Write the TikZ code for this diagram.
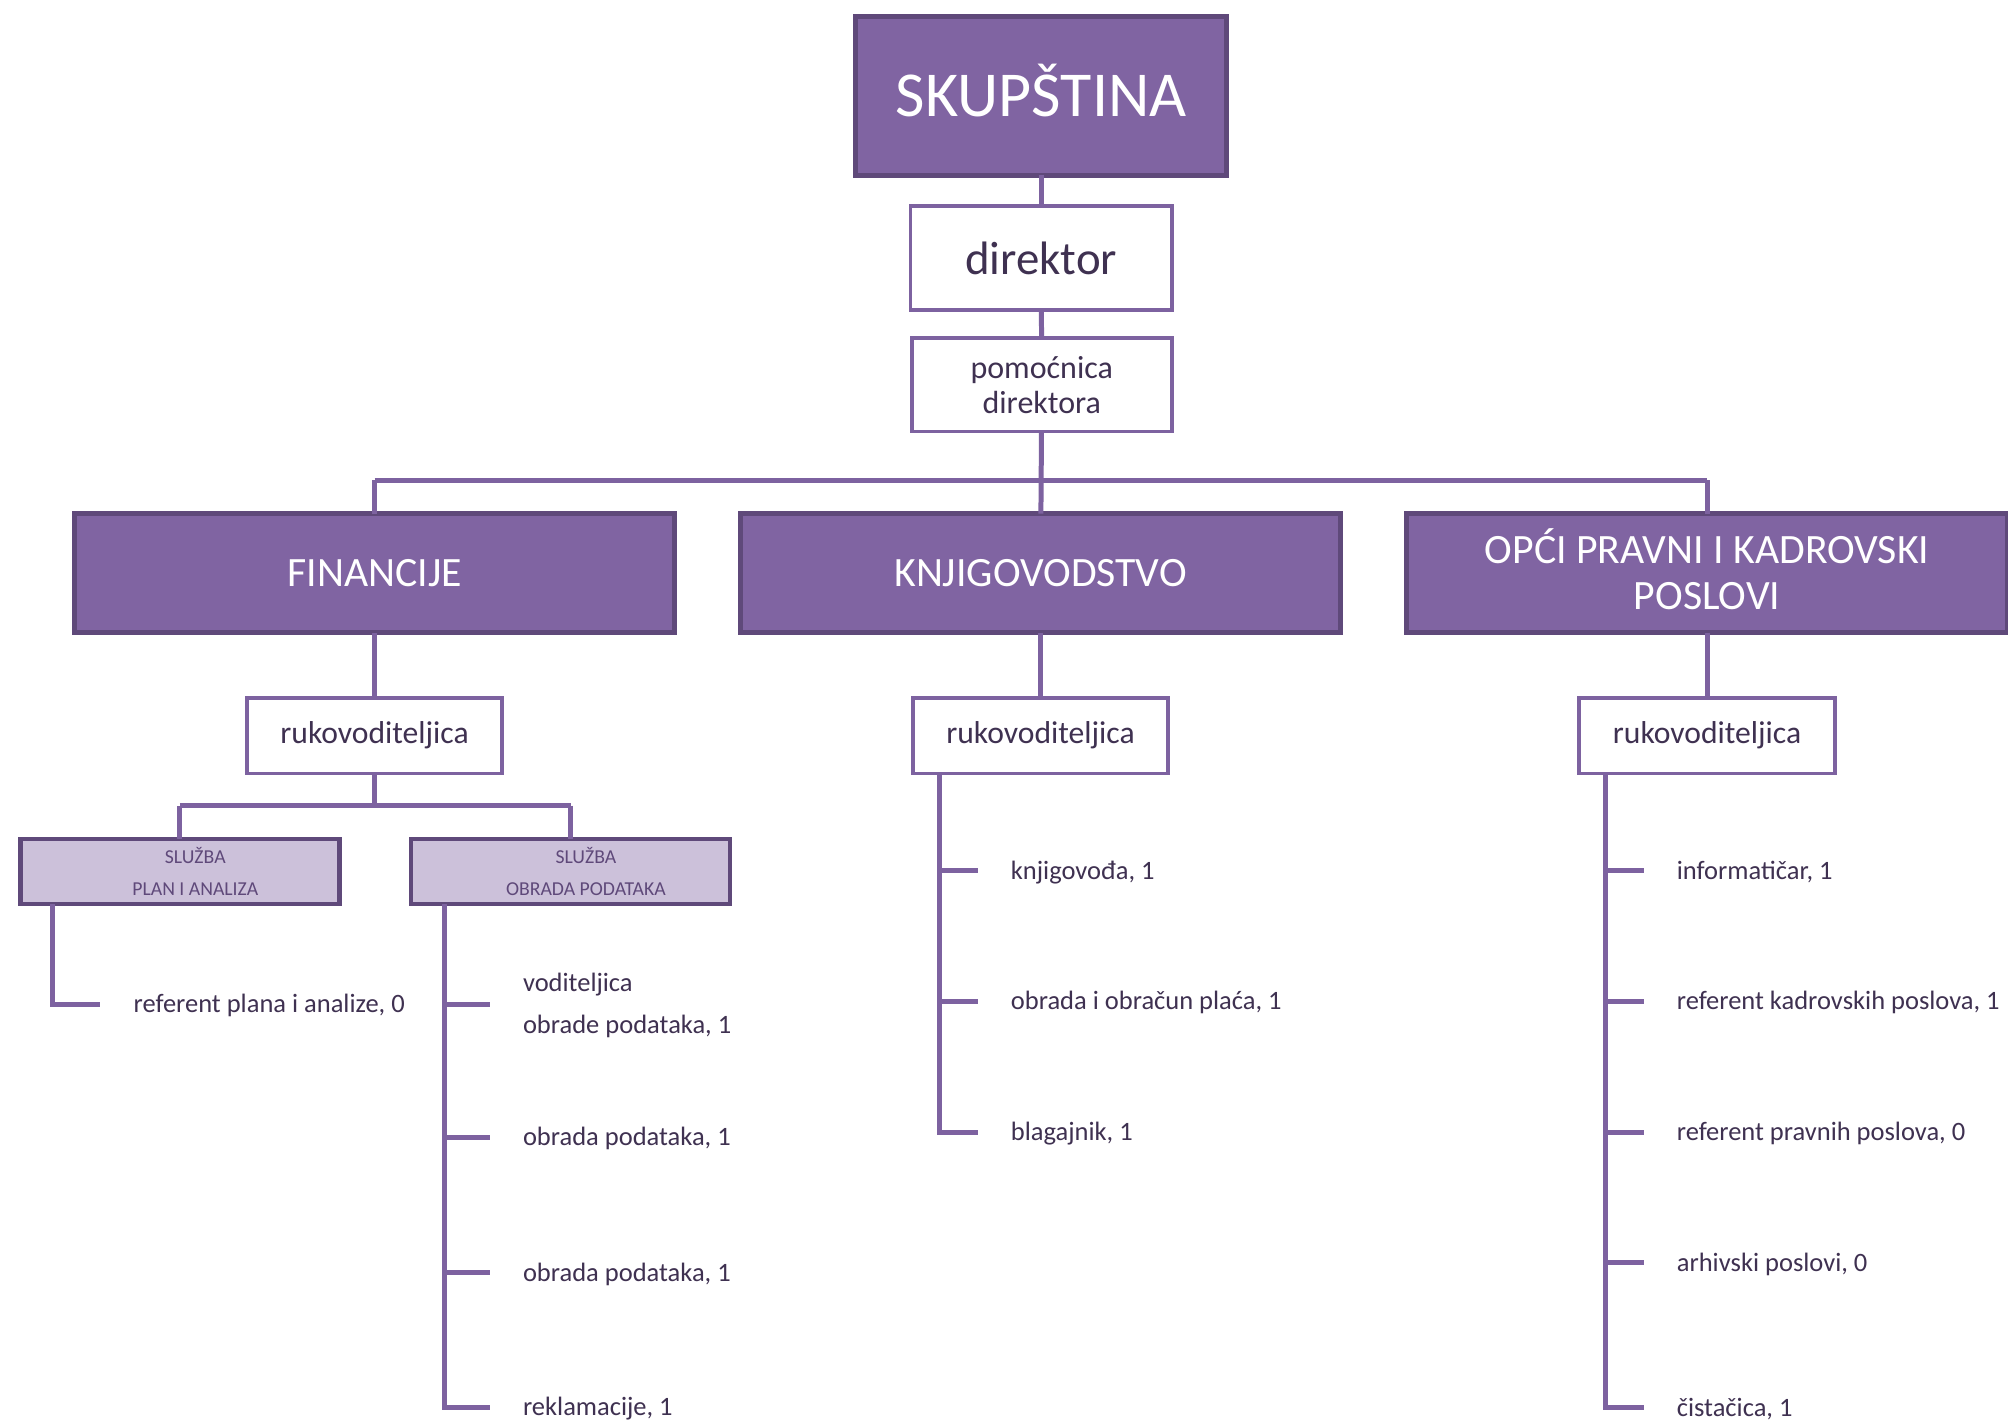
\documentclass[tikz,border=0pt]{standalone}
\usepackage{fontspec}
\setmainfont{Carlito}
\definecolor{darkfill}{HTML}{8064A2}
\definecolor{darkborder}{HTML}{5F497A}
\definecolor{lightfill}{HTML}{CCC1DA}
\definecolor{textdark}{HTML}{3F3151}
\definecolor{linecol}{HTML}{7D62A0}
\tikzset{
  headbox/.style={draw=darkborder, line width=2pt, fill=darkfill, text=white, inner sep=0pt, outer sep=0pt, align=center},
  whitebox/.style={draw=linecol, line width=1.5pt, fill=white, text=textdark, inner sep=0pt, outer sep=0pt, align=center},
  unitbox/.style={draw=darkborder, line width=1.75pt, fill=lightfill, text=darkborder, inner sep=0pt, outer sep=0pt, align=center,
    font=\fontsize{7.7pt}{12.5pt}\selectfont},
  conn/.style={draw=linecol, line width=1.95pt},
  item/.style={anchor=west, text=textdark, inner sep=0pt, align=left, font=\fontsize{10.35pt}{16.5pt}\selectfont}
}
\newcommand{\unitshift}{\hspace*{12pt}}
\begin{document}
\begin{tikzpicture}[x=0.5pt, y=-0.5pt]
\useasboundingbox (0,0) rectangle (1568,1109);
\fill[white] (0,0) rectangle (1568,1109);

\coordinate (bus) at (813,375);
\coordinate (busL) at (292.5,375);
\coordinate (busR) at (1333,375);
\coordinate (fbus) at (292.5,629);
\coordinate (fbusL) at (140.5,629);
\coordinate (fbusR) at (445.5,629);

% top boxes
\node[headbox, minimum width=145pt, minimum height=62pt, text height=16.1pt, text depth=0pt, font=\fontsize{25pt}{30pt}\selectfont] (sk) at (813,75) {SKUPŠTINA};
\node[whitebox, minimum width=102pt, minimum height=40.5pt, font=\fontsize{18.3pt}{22pt}\selectfont] (dir) at (813,201.5) {direktor};
\node[whitebox, minimum width=101.5pt, minimum height=36.5pt, font=\fontsize{12.5pt}{13.5pt}\selectfont] (pom) at (813.5,300.5) {pomoćnica\\direktora};

% departments
\node[headbox, minimum width=234.5pt, minimum height=46.5pt, text height=10.5pt, text depth=0pt, font=\fontsize{16.3pt}{18pt}\selectfont] (fin) at (292.5,447.5) {FINANCIJE};
\node[headbox, minimum width=234.5pt, minimum height=46.5pt, text height=10.5pt, text depth=0pt, font=\fontsize{16.3pt}{18pt}\selectfont] (knj) at (812.5,447.5) {KNJIGOVODSTVO};
\node[headbox, minimum width=235pt, minimum height=46.5pt, text height=28.5pt, text depth=0pt, font=\fontsize{16.3pt}{18pt}\selectfont] (opc) at (1333,447.5) {OPĆI PRAVNI I KADROVSKI\\POSLOVI};

% heads of departments
\node[whitebox, minimum width=99.5pt, minimum height=29.5pt, font=\fontsize{12.35pt}{14pt}\selectfont] (ruk1) at (292.5,574.5) {rukovoditeljica};
\node[whitebox, minimum width=99.5pt, minimum height=29.5pt, font=\fontsize{12.35pt}{14pt}\selectfont] (ruk2) at (812.5,574.5) {rukovoditeljica};
\node[whitebox, minimum width=100pt, minimum height=29.5pt, font=\fontsize{12.35pt}{14pt}\selectfont] (ruk3) at (1333,574.5) {rukovoditeljica};

% units
\node[unitbox, minimum width=124.5pt, minimum height=25.5pt] (sl1) at (140.5,680.5) {\unitshift SLUŽBA\\\unitshift PLAN I ANALIZA};
\node[unitbox, minimum width=124.5pt, minimum height=25.5pt] (sl2) at (445.5,680.5) {\unitshift SLUŽBA\\\unitshift OBRADA PODATAKA};

% main connectors
\draw[conn] (sk) -- (dir);
\draw[conn] (dir) -- (pom);
\draw[conn] (pom) -- (bus);
\draw[conn] (busL) -- (busR);
\draw[conn] (busL) -- (fin);
\draw[conn] (bus) -- (knj);
\draw[conn] (busR) -- (opc);
\draw[conn] (fin) -- (ruk1);
\draw[conn] (knj) -- (ruk2);
\draw[conn] (opc) -- (ruk3);
\draw[conn] (ruk1) -- (fbus);
\draw[conn] (fbusL) -- (fbusR);
\draw[conn] (fbusL) -- (sl1);
\draw[conn] (fbusR) -- (sl2);

% plan i analiza
\coordinate (p0) at (41,706);
\coordinate (ps1) at (78,784);
\draw[conn] (p0) |- (ps1);
\node[item] (pt1) at (104,785) {referent plana i analize, 0};

% obrada podataka
\coordinate (o0) at (347,706);
\coordinate (os1) at (383,784);
\coordinate (os2) at (383,888);
\coordinate (os3) at (383,994);
\coordinate (os4) at (383,1099);
\draw[conn] (o0) |- (os4);
\draw[conn] (o0 |- os1) -- (os1);
\draw[conn] (o0 |- os2) -- (os2);
\draw[conn] (o0 |- os3) -- (os3);
\node[item] (ot1) at (408,785) {voditeljica\\obrade podataka, 1};
\node[item] (ot2) at (408,889) {obrada podataka, 1};
\node[item] (ot3) at (408,995) {obrada podataka, 1};
\node[item] (ot4) at (408,1100) {reklamacije, 1};

% knjigovodstvo
\coordinate (k0) at (734,604);
\coordinate (ks1) at (764,680);
\coordinate (ks2) at (764,782);
\coordinate (ks3) at (764,884);
\draw[conn] (k0) |- (ks3);
\draw[conn] (k0 |- ks1) -- (ks1);
\draw[conn] (k0 |- ks2) -- (ks2);
\node[item] (kt1) at (789,681) {knjigovođa, 1};
\node[item] (kt2) at (789,783) {obrada i obračun plaća, 1};
\node[item] (kt3) at (789,885) {blagajnik, 1};

% opci pravni
\coordinate (c0) at (1254,604);
\coordinate (cs1) at (1284,680);
\coordinate (cs2) at (1284,782);
\coordinate (cs3) at (1284,884);
\coordinate (cs4) at (1284,986);
\coordinate (cs5) at (1284,1099);
\draw[conn] (c0) |- (cs5);
\draw[conn] (c0 |- cs1) -- (cs1);
\draw[conn] (c0 |- cs2) -- (cs2);
\draw[conn] (c0 |- cs3) -- (cs3);
\draw[conn] (c0 |- cs4) -- (cs4);
\node[item] (ct1) at (1309,681) {informatičar, 1};
\node[item] (ct2) at (1309,783) {referent kadrovskih poslova, 1};
\node[item] (ct3) at (1309,885) {referent pravnih poslova, 0};
\node[item] (ct4) at (1309,987) {arhivski poslovi, 0};
\node[item] (ct5) at (1309,1100) {čistačica, 1};
\end{tikzpicture}
\end{document}
